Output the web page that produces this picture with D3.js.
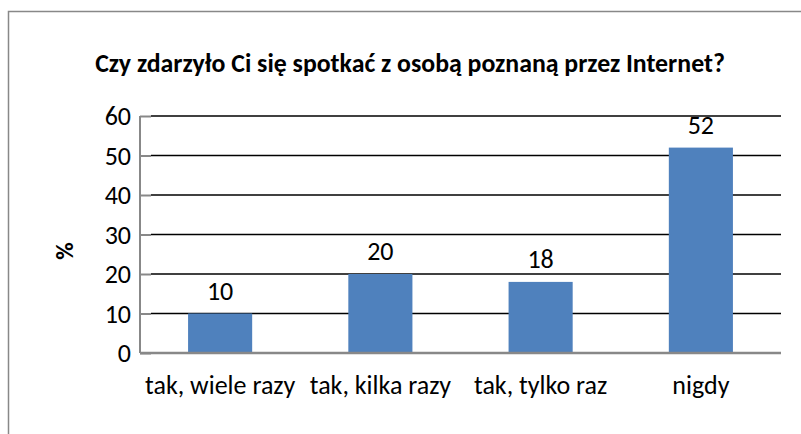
<!DOCTYPE html>
<html><head><meta charset="utf-8">
<script src="https://cdnjs.cloudflare.com/ajax/libs/d3/7.8.5/d3.min.js"></script>
<style>body{margin:0;background:#fff}svg{display:block}text{font-family:Carlito,Calibri,"Open Sans",sans-serif}</style>
</head><body><svg id="c" width="801" height="434"></svg>
<script>
const categories = ["tak, wiele razy", "tak, kilka razy", "tak, tylko raz", "nigdy"];
const values = [10, 20, 18, 52];
const yTicks = [0, 10, 20, 30, 40, 50, 60];
const title = "Czy zdarzyło Ci się spotkać z osobą poznaną przez Internet?";
const yLabel = "%";

const FONT = "Carlito,Calibri,'Open Sans',sans-serif";
const svg = d3.select("#c");
const m = {left: 140, right: 781, top: 116, bottom: 353};
svg.append("rect").attr("x", 8.5).attr("y", 11.5).attr("width", 820).attr("height", 440)
  .attr("fill", "#fff").attr("stroke", "#888").attr("stroke-width", 1.5);

const x = d3.scaleBand().domain(categories).range([m.left, m.right]).paddingInner(0.6).paddingOuter(0.3);
const y = d3.scaleLinear().domain([0, 60]).range([m.bottom, m.top]);

// gridlines
svg.append("g").selectAll("line").data(yTicks.filter(d => d > 0)).join("line")
  .attr("x1", m.left + 11).attr("x2", m.right).attr("y1", d => y(d)).attr("y2", d => y(d))
  .attr("stroke", "#000").attr("stroke-width", 1.6);

// bars
svg.append("g").selectAll("rect").data(values).join("rect")
  .attr("x", (d, i) => x(categories[i])).attr("width", x.bandwidth())
  .attr("y", d => y(d)).attr("height", d => y(0) - y(d)).attr("fill", "#4F81BD");

// y axis
const ya = svg.append("g").attr("transform", `translate(${m.left},0)`)
  .call(d3.axisLeft(y).tickValues(yTicks).tickSize(-11).tickPadding(9));
ya.select(".domain").attr("stroke", "#888").attr("stroke-width", 2).attr("d", `M0,${m.top}V${m.bottom}`);
ya.selectAll(".tick line").attr("stroke", "#888").attr("stroke-width", 2);
ya.selectAll(".tick text").attr("font-size", 26).attr("fill", "#000").attr("font-family", FONT).attr("dy", "0.34em");

// x axis
const xa = svg.append("g").attr("transform", `translate(0,${m.bottom})`)
  .call(d3.axisBottom(x).tickSize(0).tickPadding(0));
xa.select(".domain").attr("stroke", "#888").attr("stroke-width", 2.5).attr("d", `M${m.left},0H${m.right}`);
xa.selectAll(".tick text").attr("font-size", 26).attr("fill", "#000").attr("font-family", FONT)
  .attr("dy", null).attr("y", 41);

// data labels
svg.append("g").selectAll("text").data(values).join("text")
  .attr("x", (d, i) => x(categories[i]) + x.bandwidth() / 2).attr("y", d => y(d) - 14)
  .attr("text-anchor", "middle").attr("font-size", 26).text(d => d);

// title
const t = svg.append("text").attr("x", 410).attr("y", 72).attr("text-anchor", "middle")
  .attr("font-size", 22).attr("font-weight", "bold").text(title);
const tw = t.node().getComputedTextLength();
t.attr("font-size", 22 * 630 / tw);

// y label
svg.append("text").attr("transform", "translate(73,251) rotate(-90)").attr("text-anchor", "middle")
  .attr("font-size", 24).attr("font-weight", "bold").text(yLabel);
</script></body></html>
